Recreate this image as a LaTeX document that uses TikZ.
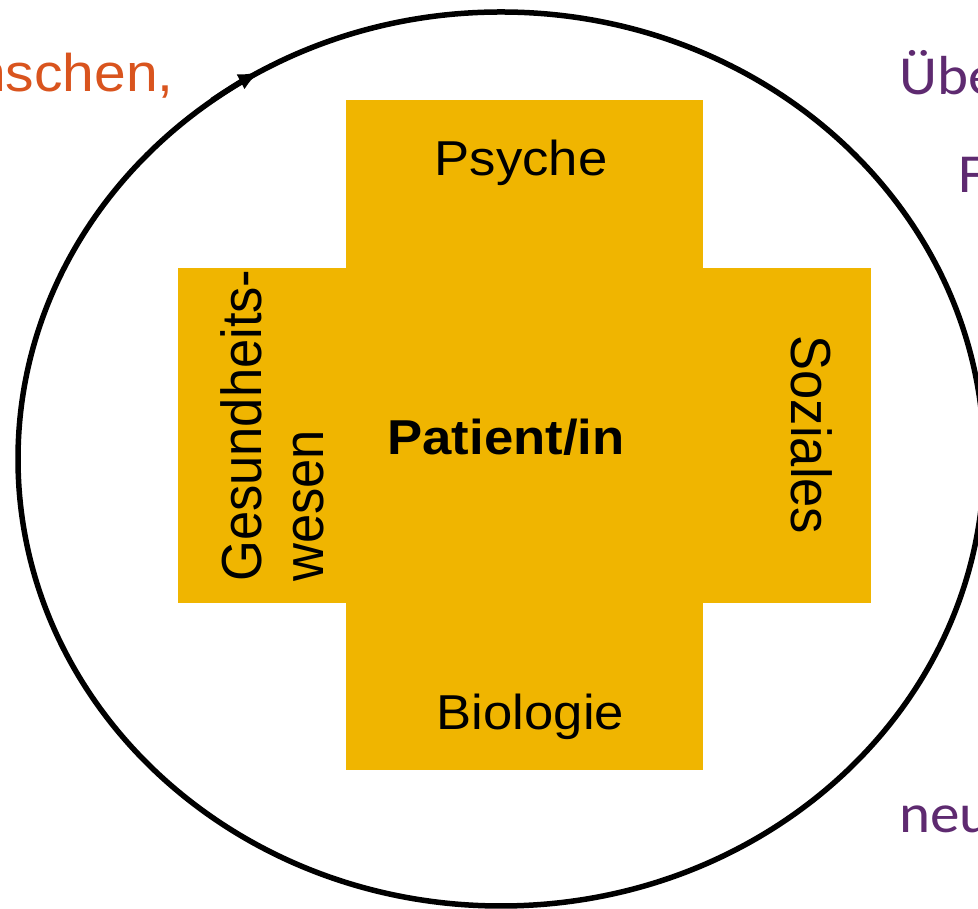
\documentclass[tikz,border=0pt]{standalone}
\usepackage{fontspec}
\setmainfont{Liberation Sans}
\newfontfamily\calibfont{Carlito}
\usetikzlibrary{arrows.meta}
\definecolor{crossfill}{RGB}{240,181,0}
\definecolor{orangetxt}{RGB}{217,84,30}
\definecolor{purpletxt}{RGB}{94,42,112}
\begin{document}
\begin{tikzpicture}[x=1pt,y=1pt,
  ring/.style={draw=black, line width=5.5pt},
  bar/.style={fill=crossfill, draw=none, inner sep=0pt, rectangle},
  hlabel/.style={font=\fontsize{49}{56}\selectfont, xscale=1.075, inner sep=0pt, anchor=base},
  vlabel/.style={font=\fontsize{52.5}{60}\selectfont, xscale=1.075, inner sep=0pt},
  sidetext/.style={font=\calibfont\fontsize{55}{62}\selectfont, text=purpletxt, xscale=1.075, inner sep=0pt, anchor=base west}]
\useasboundingbox (0,0) rectangle (978,909);
\coordinate (ctr) at (501,450);
\draw[ring] (ctr) ellipse [x radius=483, y radius=447];
\coordinate (arrstart) at (212.1,808.6);
\draw[ring, -{Latex[length=22pt,width=17pt]}] (arrstart) arc[start angle=126.5, end angle=119.7, x radius=483, y radius=447];
\node[bar, minimum width=357pt, minimum height=670pt] (vbar) at (524.5,474) {};
\node[bar, minimum width=693pt, minimum height=335pt] (hbar) at (524.5,473.5) {};
\node[hlabel] (psyche) at (521,733) {Psyche};
\node[hlabel] (patient) at (506,454) {\bfseries Patient/in};
\node[hlabel] (biologie) at (530.5,179) {Biologie};
\node[vlabel, rotate=-90, anchor=base] (soziales) at (791,474) {Soziales};
\node[vlabel, rotate=90, anchor=base west] (gesund) at (261,327) {Gesundheits-};
\node[vlabel, rotate=90, anchor=base west] (wesen) at (323,327) {wesen};
\node[font=\fontsize{53}{60}\selectfont, text=orangetxt, xscale=1.075, inner sep=0pt, anchor=base east] (menschen) at (174,817) {nschen,};
\node[sidetext] (ueber) at (899,814) {Übe};
\node[sidetext] (ftext) at (958,716) {F};
\node[sidetext] (neu) at (899,76) {neu};
\end{tikzpicture}
\end{document}
